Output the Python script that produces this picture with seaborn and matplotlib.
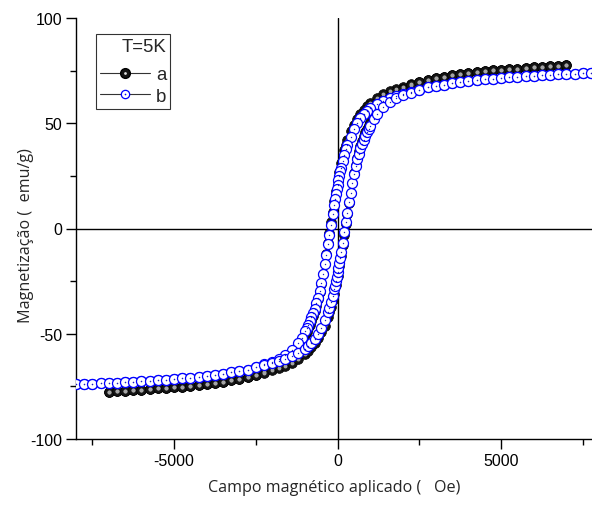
import numpy as np
import pandas as pd
import matplotlib
matplotlib.use("Agg")
import matplotlib.pyplot as plt
import seaborn as sns
from matplotlib.legend_handler import HandlerTuple
from matplotlib.lines import Line2D

# ---- data ----
H_a_down = [7000, 6750, 6500, 6250, 6000, 5750, 5500, 5250, 5000, 4750, 4500, 4250, 4000, 3750, 3500,
            3250, 3000, 2750, 2500, 2250, 2000, 1800, 1600, 1400, 1200, 1000, 900, 800, 700, 600, 500,
            400, 300, 250, 200, 150, 100, 50, 0, -50, -100, -150, -200, -250, -300, -350, -400, -450,
            -500, -550, -600, -650, -700, -750, -800, -850, -900, -950, -1000, -1100, -1200, -1400,
            -1600, -1800, -2000, -2250, -2500, -2750, -3000, -3250, -3500, -3750, -4000, -4250, -4500,
            -4750, -5000, -5250, -5500, -5750, -6000, -6250, -6500, -6750, -7000]
M_a_down = [77.5, 77.3, 77.0, 76.8, 76.5, 76.3, 76.0, 75.7, 75.4, 75.1, 74.7, 74.4, 73.9, 73.4, 72.8,
            72.1, 71.4, 70.6, 69.6, 68.6, 67.3, 66.2, 65.1, 63.7, 62.0, 59.7, 58.2, 56.5, 54.6, 52.2, 49.4,
            46.1, 42.1, 39.8, 37.2, 34.2, 30.9, 27.0, 22.7, 18.0, 13.0, 8.0, 3.0, -2.0, -7.0, -12.0, -17.0, -21.8,
            -26.2, -30.1, -33.6, -36.6, -39.3, -41.7, -43.8, -45.7, -47.5, -49.1, -50.5, -53.6, -56.1, -59.8,
            -62.9, -65.0, -66.4, -68.1, -69.5, -70.6, -71.4, -72.1, -72.8, -73.4, -73.9, -74.4, -74.7,
            -75.1, -75.4, -75.7, -76.0, -76.3, -76.5, -76.8, -77.0, -77.3, -77.5]
H_a_up = [-7000, -6750, -6500, -6250, -6000, -5750, -5500, -5250, -5000, -4750, -4500, -4250, -4000, -3750, -3500,
          -3250, -3000, -2750, -2500, -2250, -2000, -1800, -1600, -1400, -1200, -1000, -900, -800, -700, -600, -500,
          -400, -300, -250, -200, -150, -100, -50, 0, 50, 100, 150, 200, 250, 300, 350, 400, 450,
          500, 550, 600, 650, 700, 750, 800, 850, 900, 950, 1000, 1100, 1200, 1400,
          1600, 1800, 2000, 2250, 2500, 2750, 3000, 3250, 3500, 3750, 4000, 4250, 4500,
          4750, 5000, 5250, 5500, 5750, 6000, 6250, 6500, 6750, 7000]
M_a_up = [-77.5, -77.3, -77.0, -76.8, -76.5, -76.3, -76.0, -75.7, -75.4, -75.1, -74.7, -74.4, -73.9, -73.4, -72.8,
          -72.1, -71.4, -70.6, -69.6, -68.6, -67.3, -66.2, -65.1, -63.7, -62.0, -59.7, -58.2, -56.5, -54.6, -52.2, -49.4,
          -46.1, -42.1, -39.8, -37.2, -34.2, -30.9, -27.0, -22.7, -18.0, -13.0, -8.0, -3.0, 2.0, 7.0, 12.0, 17.0, 21.8,
          26.2, 30.1, 33.6, 36.6, 39.3, 41.7, 43.8, 45.7, 47.5, 49.1, 50.5, 53.6, 56.1, 59.8,
          62.9, 65.0, 66.4, 68.1, 69.5, 70.6, 71.4, 72.1, 72.8, 73.4, 73.9, 74.4, 74.7,
          75.1, 75.4, 75.7, 76.0, 76.3, 76.5, 76.8, 77.0, 77.3, 77.5]

H_b_down = [8000, 7750, 7500, 7250, 7000, 6750, 6500, 6250, 6000, 5750, 5500, 5250, 5000, 4750, 4500, 4250,
            4000, 3750, 3500, 3250, 3000, 2750, 2500, 2250, 2000, 1800, 1600, 1400, 1200, 1000, 900, 800,
            700, 600, 500, 400, 300, 250, 200, 150, 100, 75, 50, 25, 0, -25, -50, -75, -100, -150, -200,
            -250, -300, -350, -400, -450, -500, -550, -600, -650, -700, -750, -800, -850, -900, -950, -1000,
            -1100, -1200, -1400, -1600, -1800, -2000, -2250, -2500, -2750, -3000, -3250, -3500, -3750, -4000,
            -4250, -4500, -4750, -5000, -5250, -5500, -5750, -6000, -6250, -6500, -6750, -7000, -7250, -7500,
            -7750, -8000]
M_b_down = [74.1, 73.9, 73.8, 73.6, 73.4, 73.3, 73.1, 72.9, 72.6, 72.4, 72.1, 71.8, 71.5, 71.2, 70.8, 70.5,
            70.0, 69.5, 69.0, 68.4, 67.8, 67.0, 66.0, 64.9, 63.9, 63.0, 62.0, 60.8, 59.3, 57.2, 55.9, 54.3,
            52.4, 50.0, 47.1, 43.7, 39.8, 37.6, 35.1, 32.2, 28.9, 27.1, 25.0, 22.9, 20.7, 18.6, 16.2, 13.8, 11.4, 6.7, 1.9,
            -2.9, -7.6, -12.4, -17.1, -21.6, -25.8, -29.6, -32.8, -35.6, -38.1, -40.3, -42.2, -44.1, -45.8, -47.4, -48.9,
            -52.0, -54.2, -57.6, -60.2, -62.0, -63.3, -64.6, -65.9, -67.0, -67.8, -68.4, -69.0, -69.5, -70.0,
            -70.5, -70.8, -71.2, -71.5, -71.8, -72.1, -72.4, -72.6, -72.9, -73.1, -73.3, -73.4, -73.6, -73.8,
            -73.9, -74.1]
H_b_up = [-8000, -7750, -7500, -7250, -7000, -6750, -6500, -6250, -6000, -5750, -5500, -5250, -5000, -4750, -4500, -4250,
          -4000, -3750, -3500, -3250, -3000, -2750, -2500, -2250, -2000, -1800, -1600, -1400, -1200, -1000, -900, -800,
          -700, -600, -500, -400, -300, -250, -200, -150, -100, -75, -50, -25, 0, 25, 50, 75, 100, 150, 200,
          250, 300, 350, 400, 450, 500, 550, 600, 650, 700, 750, 800, 850, 900, 950, 1000,
          1100, 1200, 1400, 1600, 1800, 2000, 2250, 2500, 2750, 3000, 3250, 3500, 3750, 4000,
          4250, 4500, 4750, 5000, 5250, 5500, 5750, 6000, 6250, 6500, 6750, 7000, 7250, 7500,
          7750, 8000]
M_b_up = [-74.1, -73.9, -73.8, -73.6, -73.4, -73.3, -73.1, -72.9, -72.6, -72.4, -72.1, -71.8, -71.5, -71.2, -70.8, -70.5,
          -70.0, -69.5, -69.0, -68.4, -67.8, -67.0, -66.0, -64.9, -63.9, -63.0, -62.0, -60.8, -59.3, -57.2, -55.9, -54.3,
          -52.4, -50.0, -47.1, -43.7, -39.8, -37.6, -35.1, -32.2, -28.9, -27.1, -25.0, -22.9, -20.7, -18.6, -16.2, -13.8, -11.4, -6.7, -1.9,
          2.9, 7.6, 12.4, 17.1, 21.6, 25.8, 29.6, 32.8, 35.6, 38.1, 40.3, 42.2, 44.1, 45.8, 47.4, 48.9,
          52.0, 54.2, 57.6, 60.2, 62.0, 63.3, 64.6, 65.9, 67.0, 67.8, 68.4, 69.0, 69.5, 70.0,
          70.5, 70.8, 71.2, 71.5, 71.8, 72.1, 72.4, 72.6, 72.9, 73.1, 73.3, 73.4, 73.6, 73.8,
          73.9, 74.1]

x_ticks = [-5000, 0, 5000]
y_ticks = [-100, -50, 0, 50, 100]
labels = ["a", "b"]
legend_title = "T=5K"
x_label = "Campo magnético aplicado (   Oe)"
y_label = "Magnetização (  emu/g)"

df_a = pd.DataFrame({"H": H_a_down + H_a_up, "M": M_a_down + M_a_up})
df_b = pd.DataFrame({"H": H_b_down + H_b_up, "M": M_b_down + M_b_up})

# ---- style ----
sns.set_style("white")
plt.rcParams["font.family"] = ["Liberation Sans", "DejaVu Sans"]
plt.rcParams["axes.unicode_minus"] = False

fig = plt.figure(figsize=(5.92, 5.06), dpi=100)
ax = fig.add_axes([76 / 592, 1 - 440 / 506, 1 - 76 / 592, (440 - 19) / 506])

ax.axhline(0, color="black", lw=1.0, zorder=1)
ax.axvline(0, color="black", lw=1.0, zorder=1)

# series a: dark spheres (body + highlight)
sns.lineplot(data=df_a, x="H", y="M", sort=False, estimator=None, ax=ax,
             color="black", lw=0.7, marker="o", markersize=7,
             markerfacecolor="#151515", markeredgecolor="#000000", markeredgewidth=0.5, zorder=2)
sns.lineplot(data=df_a, x="H", y="M", sort=False, estimator=None, ax=ax,
             color="#9c9c9c", lw=0, marker="o", markersize=2.8,
             markerfacecolor="#a5a5a5", markeredgewidth=0, zorder=2.1)
# series b: open blue circles with a small centre dot
sns.lineplot(data=df_b, x="H", y="M", sort=False, estimator=None, ax=ax,
             color="black", lw=0.6, marker="o", markersize=7.2,
             markerfacecolor="white", markeredgecolor="#0000ff", markeredgewidth=0.9, zorder=3)
sns.lineplot(data=df_b, x="H", y="M", sort=False, estimator=None, ax=ax,
             color="#2020c0", lw=0, marker="o", markersize=1.0,
             markerfacecolor="#2020c0", markeredgewidth=0, zorder=3.1)

ax.set_xlim(-8000, 7780)
ax.set_ylim(-100, 100)
ax.set_xticks(x_ticks)
ax.set_yticks(y_ticks)
ax.set_xticks([-7500, -2500, 2500, 7500], minor=True)
ax.set_yticks([-75, -25, 25, 75], minor=True)
ax.tick_params(axis="both", which="major", direction="out", length=7, width=1.0,
               labelsize=11.5, color="black", labelcolor="black", bottom=True, left=True, pad=3)
ax.tick_params(axis="both", which="minor", direction="out", length=4, width=1.0,
               color="black", bottom=True, left=True)

for s in ["top", "right"]:
    ax.spines[s].set_visible(False)
for s in ["left", "bottom"]:
    ax.spines[s].set_color("black")
    ax.spines[s].set_linewidth(1.0)

ax.set_xlabel(x_label, fontsize=11.6, family=["Open Sans", "DejaVu Sans"], labelpad=8)
ax.set_ylabel(y_label, fontsize=11.6, family=["Open Sans", "DejaVu Sans"])
ax.yaxis.set_label_coords((34 - 76) / 516, (440 - 236) / 421)

line_a = Line2D([], [], color="#333333", lw=0.8, marker="o", markersize=7,
                markerfacecolor="#151515", markeredgecolor="black")
hl_a = Line2D([], [], lw=0, marker="o", markersize=2.0, markerfacecolor="#e0e0e0",
              markeredgewidth=0)
line_b = Line2D([], [], color="#333333", lw=0.8, marker="o", markersize=6,
                markerfacecolor="white", markeredgecolor="#0000ff", markeredgewidth=0.9)
dot_b = Line2D([], [], lw=0, marker="o", markersize=1.2, markerfacecolor="#0000ff",
               markeredgewidth=0)
leg = ax.legend(handles=[(line_a, hl_a), (line_b, dot_b)], labels=labels, title=legend_title,
                loc="upper left", bbox_to_anchor=(20 / 516, 1 - 16 / 421),
                borderaxespad=0, frameon=True, fancybox=False, edgecolor="black",
                fontsize=13.4, title_fontsize=13.4, handlelength=2.7, handletextpad=0.3,
                borderpad=0.22, labelspacing=0.25, alignment="right",
                handler_map={tuple: HandlerTuple(ndivide=1, pad=0)})
leg.get_frame().set_linewidth(0.8)
leg._legend_box.sep = 8

fig.savefig("out.png", dpi=100)
